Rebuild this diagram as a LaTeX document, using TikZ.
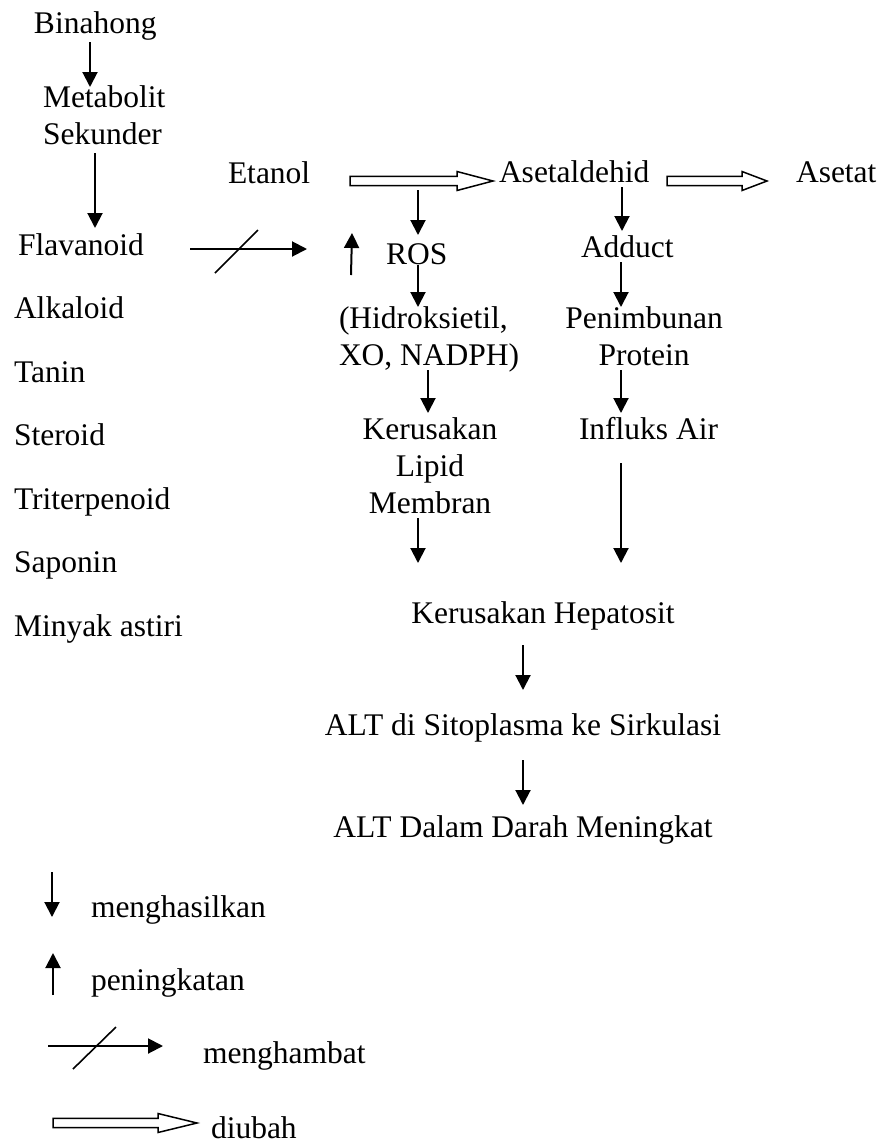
\documentclass[tikz,border=0pt]{standalone}
\usepackage{fontspec}
\setmainfont{Liberation Serif}
\usetikzlibrary{
  arrows.meta,
  calc,
  positioning
}
\tikzset{
  >=stealth,
  line cap=butt,
  every picture/.style={line width=2pt},
  txt/.style={inner sep=0pt, anchor=base west, font=\fontsize{31.5}{37}\selectfont},
  ctxt/.style={txt, anchor=base, align=center},
  arrow/.style={-{Triangle[width=15pt,length=15pt]}, line width=2pt},
  slash/.style={line width=1.6pt},
  hollow/.style={draw, line width=1.5pt, fill=white, line join=miter}
}
% hollow "diubah" arrow: start, tip, head length
\newcommand{\ubaharrow}[3]{%
  \draw[hollow] ($(#1)+(0,-4.6)$) -- ($(#2)+(-#3,-4.6)$) -- ($(#2)+(-#3,-9.5)$) -- (#2)
    -- ($(#2)+(-#3,9.5)$) -- ($(#2)+(-#3,4.6)$) -- ($(#1)+(0,4.6)$) -- cycle;
}

\begin{document}
\begin{tikzpicture}[x=1pt,y=-1pt]
  \useasboundingbox (0,0) rectangle (880,1144);

  % left column (multi-line nodes sit on their last baseline)
  \node[txt] (binahong) at (33,33) {Binahong};
  \node[txt, align=left] (metabolit) at (42,144) {Metabolit\\Sekunder};
  \node[txt] (flavanoid) at (17,255) {Flavanoid};
  \node[txt] (alkaloid) at (13,318.5) {Alkaloid};
  \node[txt] (tanin) at (13,382) {Tanin};
  \node[txt] (steroid) at (13,445.5) {Steroid};
  \node[txt] (triterpenoid) at (13,509) {Triterpenoid};
  \node[txt] (saponin) at (13,572.5) {Saponin};
  \node[txt] (minyak) at (13,636) {Minyak astiri};

  % alcohol pathway
  \node[txt] (etanol) at (227,183) {Etanol};
  \node[txt] (asetaldehid) at (498,182) {Asetaldehid};
  \node[txt] (asetat) at (795,182) {Asetat};
  \node[txt] (ros) at (385,264) {ROS};
  \node[txt] (adduct) at (580,257) {Adduct};
  \node[txt, align=left] (hidroksi) at (338,365) {(Hidroksietil,\\XO, NADPH)};
  \node[ctxt] (penimbunan) at (644,365) {Penimbunan\\Protein};
  \node[ctxt] (lipid) at (430,513) {Kerusakan\\Lipid\\Membran};
  \node[txt] (influks) at (578,439) {Influks Air};
  \node[ctxt] (hepatosit) at (543,623) {Kerusakan Hepatosit};
  \node[ctxt] (sitoplasma) at (523,735) {ALT di Sitoplasma ke Sirkulasi};
  \node[ctxt] (darah) at (523,837) {ALT Dalam Darah Meningkat};

  % arrow ends
  \coordinate (b1) at (90,42);   \coordinate (b2) at (90,87);
  \coordinate (m1) at (95,153);  \coordinate (m2) at (95,228);
  \coordinate (f1) at (190,249); \coordinate (f2) at (307,249);
  \coordinate (s1) at (215,273); \coordinate (s2) at (258,230);
  \coordinate (e1) at (350,181); \coordinate (e2) at (493,181);
  \coordinate (a1) at (667,181); \coordinate (a2) at (767,181);
  \coordinate (r1) at (418,190); \coordinate (r2) at (418,235);
  \coordinate (d1) at (622,187); \coordinate (d2) at (622,231);
  \coordinate (u1) at (351,275); \coordinate (u2) at (352,233);
  \coordinate (h1) at (418,265); \coordinate (h2) at (418,307);
  \coordinate (p1) at (621,262); \coordinate (p2) at (621,307);
  \coordinate (k1) at (428,370); \coordinate (k2) at (428,413);
  \coordinate (i1) at (621,370); \coordinate (i2) at (621,413);
  \coordinate (l1) at (418,518); \coordinate (l2) at (418,563);
  \coordinate (x1) at (621,463); \coordinate (x2) at (621,563);
  \coordinate (t1) at (523,645); \coordinate (t2) at (523,690);
  \coordinate (c1) at (523,760); \coordinate (c2) at (523,805);

  \draw[arrow] (b1) -- (b2);
  \draw[arrow] (m1) -- (m2);
  \draw[arrow] (f1) -- (f2);
  \draw[slash] (s1) -- (s2);
  \ubaharrow{e1}{e2}{36}
  \ubaharrow{a1}{a2}{25}
  \draw[arrow] (r1) -- (r2);
  \draw[arrow] (d1) -- (d2);
  \draw[arrow] (u1) -- (u2);
  \draw[arrow] (h1) -- (h2);
  \draw[arrow] (p1) -- (p2);
  \draw[arrow] (k1) -- (k2);
  \draw[arrow] (i1) -- (i2);
  \draw[arrow] (l1) -- (l2);
  \draw[arrow] (x1) -- (x2);
  \draw[arrow] (t1) -- (t2);
  \draw[arrow] (c1) -- (c2);

  % legend
  \node[txt] (menghasilkan) at (90,917) {menghasilkan};
  \node[txt] (peningkatan) at (90,990) {peningkatan};
  \node[txt] (menghambat) at (202,1063) {menghambat};
  \node[txt] (diubah) at (210,1138) {diubah};
  \coordinate (g1) at (52,872);   \coordinate (g2) at (52,917);
  \coordinate (n1) at (53,995);   \coordinate (n2) at (53,953);
  \coordinate (y1) at (48,1046);  \coordinate (y2) at (163,1046);
  \coordinate (z1) at (73,1069);  \coordinate (z2) at (116,1027);
  \coordinate (v1) at (53,1123);  \coordinate (v2) at (197,1123);
  \draw[arrow] (g1) -- (g2);
  \draw[arrow] (n1) -- (n2);
  \draw[arrow] (y1) -- (y2);
  \draw[slash] (z1) -- (z2);
  \ubaharrow{v1}{v2}{39}
\end{tikzpicture}
\end{document}
